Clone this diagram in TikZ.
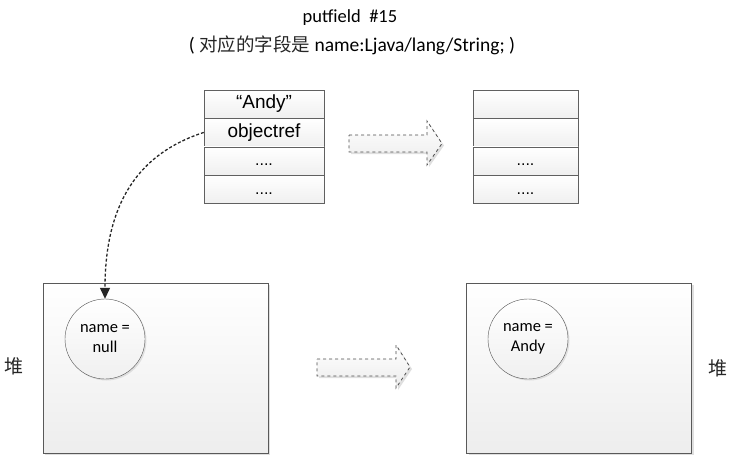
\documentclass[tikz,border=0pt]{standalone}
\usepackage{fontspec}
\setmainfont{Carlito}
\newfontfamily\arialfont{Liberation Sans}
\newfontfamily\cjk{Noto Sans CJK SC}
\usetikzlibrary{positioning,shadows,arrows.meta}

\tikzset{
  cell/.style={draw=gray!75!black, top color=white, bottom color=gray!12,
    minimum width=120pt, minimum height=28pt, inner sep=0pt,
    font=\arialfont\fontsize{19}{21}\selectfont},
  heap/.style={draw=gray!70!black, top color=white, bottom color=gray!14,
    minimum width=225pt, minimum height=170pt, inner sep=0pt,
    drop shadow={shadow xshift=2pt, shadow yshift=-2pt, opacity=0.25}},
  obj/.style={circle, draw=gray!65!black, top color=white, bottom color=gray!12,
    minimum size=80pt, inner sep=0pt, align=center,
    font=\fontsize{16.5}{20}\selectfont,
    drop shadow={shadow xshift=1.5pt, shadow yshift=-1.5pt, opacity=0.2}},
  move/.style={draw=gray!60!black, dashed, line width=0.8pt,
    top color=white, bottom color=gray!15,
    drop shadow={shadow xshift=2pt, shadow yshift=-2pt, opacity=0.25}},
  ref/.style={draw=gray!30!black, line width=1.3pt, dash pattern=on 3pt off 2pt,
    -{Triangle[length=11pt,width=10pt]}},
  dots/.style={font=\arialfont\fontsize{16}{18}\selectfont,
    text height=10pt, text depth=0pt},
}

\begin{document}
\begin{tikzpicture}[x=1pt, y=-1pt, node distance=0pt]
  \useasboundingbox (0,0) rectangle (736,459);

  % title
  \node[font=\fontsize{18.5}{20}\selectfont] (title) at (350,18) {putfield~ \#15};
  \node[font=\fontsize{19.5}{22}\selectfont] (subtitle) at (352,45)
    {( {\cjk\fontsize{18.5}{22}\selectfont\color{gray!30!black}对应的字段是} name:Ljava/lang/String; )};

  % operand stack before
  \node[cell] (andy) at (264,104) {“Andy”};
  \node[cell, below=of andy] (oref) {objectref};
  \node[cell, below=of oref, dots] (slotA) {....};
  \node[cell, below=of slotA, dots] (slotB) {....};

  % operand stack after
  \node[cell, minimum width=105pt] (emptyA) at (525.5,104) {};
  \node[cell, minimum width=105pt, below=of emptyA] (emptyB) {};
  \node[cell, minimum width=105pt, below=of emptyB, dots] (slotC) {....};
  \node[cell, minimum width=105pt, below=of slotC, dots] (slotD) {....};

  % heaps
  \node[heap] (heapL) at (155.5,368) {};
  \node[heap] (heapR) at (579,368) {};
  \node[obj] (nullobj) at (105,339) {name =\\null};
  \node[obj] (andyobj) at (528,339) {name =\\Andy};
  \node[font=\cjk\fontsize{19}{20}\selectfont, text=gray!30!black] (heapLabelL) at (14,366) {堆};
  \node[font=\cjk\fontsize{19}{20}\selectfont, text=gray!30!black] (heapLabelR) at (718,368) {堆};

  % transitions
  \path[move] (349,135) -- (427,135) -- (427,121) -- (442,143.5)
    -- (427,165) -- (427,152) -- (349,152) -- cycle;
  \path[move] (317,359) -- (396,359) -- (396,345) -- (410,367)
    -- (396,388) -- (396,376) -- (317,376) -- cycle;

  % reference
  \draw[ref] (oref.west) .. controls (150,150) and (105,190) .. (nullobj.north);
\end{tikzpicture}
\end{document}
